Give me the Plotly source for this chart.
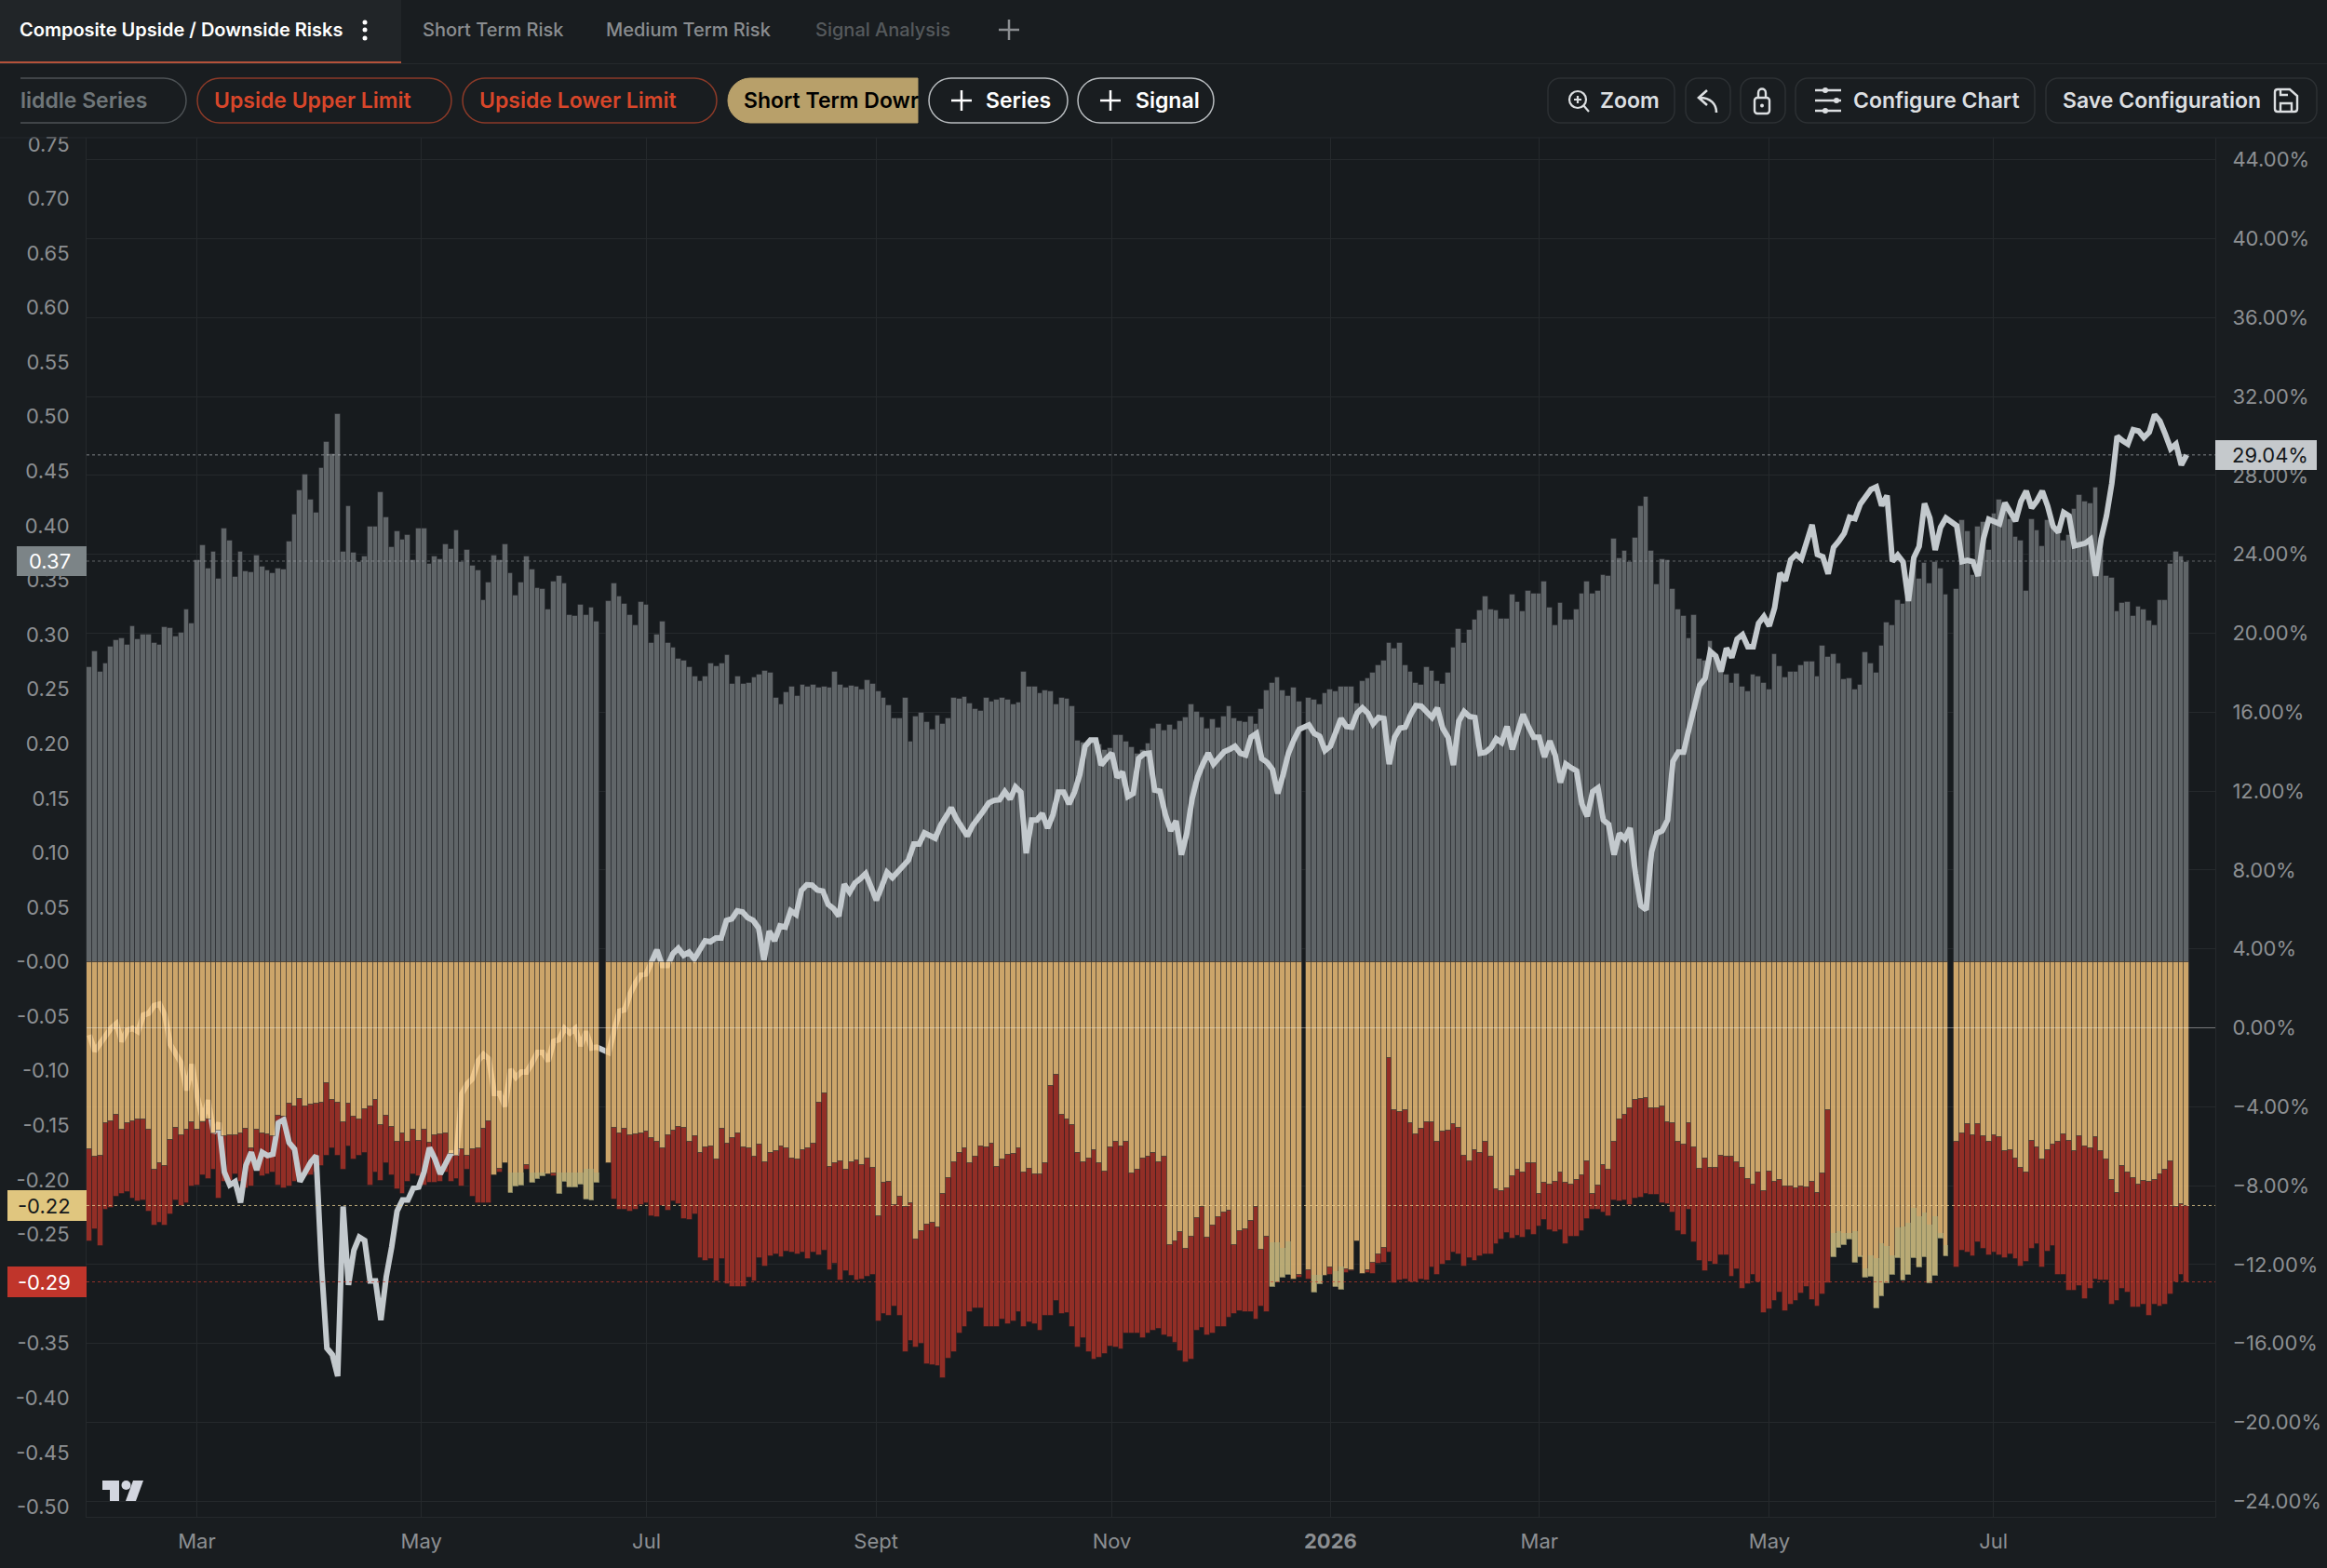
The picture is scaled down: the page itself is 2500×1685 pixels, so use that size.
"""Composite upside / downside risk chart, TradingView style dark panel."""
import numpy as np
import plotly.graph_objects as go

# bars come in four runs, split by the missing sessions
GREY_A = [.270, .285, .266, .274, .289, .295, .297, .291, .308, .296,
          .300, .300, .292, .291, .307, .306, .298, .302, .323, .310,
          .368, .382, .361, .376, .351, .397, .386, .353, .376, .358,
          .357, .373, .362, .359, .356, .361, .360, .385, .410, .432,
          .447, .424, .412, .453, .477, .466, .502, .376, .418, .375,
          .367, .372, .399, .399, .431, .408, .380, .395, .387, .391,
          .368, .397, .397, .365, .372, .369, .383, .379, .396, .367,
          .378, .363, .359, .332, .348, .373, .368, .383, .356, .336,
          .348, .372, .360, .343, .342, .323, .349, .354, .347, .318,
          .317, .327, .318, .325, .312]
GREY_B = [.331, .347, .335, .328, .318, .309, .330, .327, .292,
          .300, .312, .292, .288, .278, .276, .270, .262, .257, .262,
          .274, .271, .274, .281, .255, .262, .255, .256, .261, .263,
          .267, .265, .242, .236, .247, .252, .244, .254, .252, .254,
          .251, .252, .251, .266, .254, .251, .253, .252, .250, .258,
          .255, .248, .242, .235, .223, .223, .242, .202, .225, .228,
          .220, .213, .226, .218, .223, .242, .241, .243, .237, .232,
          .230, .242, .239, .240, .242, .240, .236, .238, .266, .252,
          .252, .246, .249, .248, .236, .242, .241, .234, .203, .201,
          .203, .204, .199, .194, .196, .208, .208, .202, .197, .191,
          .194, .200, .214, .218, .212, .217, .213, .221, .224, .236,
          .229, .224, .214, .222, .215, .225, .234, .223, .221, .220,
          .225, .218, .232, .249, .256, .261, .249, .244, .251, .239]
GREY_C = [.242, .240, .236, .246, .250, .248, .252, .252, .252, .237,
          .257, .260, .265, .272, .276, .292, .287, .292, .272, .266,
          .256, .254, .270, .267, .257, .255, .265, .288, .305, .292,
          .304, .314, .322, .335, .323, .322, .315, .315, .337, .330,
          .321, .340, .338,
          .338, .349, .325, .309, .329, .314, .314, .323, .338, .349,
          .338, .340, .355, .354, .388, .370, .377, .367, .389, .418,
          .426, .377, .346, .369, .368, .342, .323, .317, .297, .318,
          .278, .276, .294, .279, .268, .263, .256, .264, .252, .248,
          .263, .262, .256, .250, .282, .271, .261, .266, .266, .272,
          .275, .275, .262, .290, .280, .282, .274, .259, .260, .250,
          .254, .284, .274, .265, .290, .311, .309, .332, .328, .334,
          .368, .351, .366, .347, .367, .361, .337]
GREY_D = [.342, .405, .395, .355, .399, .403, .378, .411, .424, .421,
          .406, .390, .386, .340, .406, .396, .381, .405, .398, .395,
          .386, .391, .415, .428, .422, .420, .435, .378, .354, .352,
          .321, .329, .330, .317, .326, .323, .313, .309, .332, .332,
          .365, .376, .372, .367]

TAN_A = [-.172, -.179, -.178, -.148, -.146, -.140, -.154, -.148, -.146, -.145,
         -.145, -.154, -.191, -.185, -.187, -.163, -.152, -.159, -.154, -.147,
         -.154, -.147, -.145, -.157, -.155, -.160, -.159, -.159, -.157, -.153,
         -.171, -.154, -.157, -.158, -.160, -.141, -.142, -.130, -.133, -.126,
         -.133, -.131, -.130, -.129, -.111, -.127, -.129, -.147, -.130, -.142,
         -.145, -.135, -.133, -.127, -.150, -.141, -.151, -.165, -.157, -.165,
         -.154, -.164, -.154, -.166, -.159, -.158, -.157, -.176, -.178, -.172,
         -.178, -.172, -.171, -.153, -.146, -.196, -.190, -.185, -.212, -.206,
         -.205, -.186, -.203, -.199, -.197, -.195, -.194, -.213, -.202, -.207,
         -.207, -.204, -.218, -.219, -.203]
RED_A = [-.256, -.245, -.261, -.227, -.226, -.215, -.213, -.211, -.217, -.220,
         -.219, -.229, -.242, -.239, -.242, -.232, -.219, -.224, -.221, -.206,
         -.205, -.196, -.199, -.191, -.217, -.202, -.201, -.195, -.202, -.208,
         -.206, -.190, -.197, -.195, -.193, -.205, -.208, -.206, -.202, -.201,
         -.197, -.196, -.193, -.187, -.178, -.171, -.178, -.191, -.169, -.181,
         -.178, -.175, -.205, -.193, -.201, -.185, -.196, -.209, -.213, -.202,
         -.195, -.197, -.205, -.203, -.203, -.202, -.193, -.202, -.199, -.206,
         -.191, -.215, -.221, -.221, -.221, None, -.193, None, None, None,
         None, -.191, None, None, None, None, -.197, None, None, None,
         None, None, None, None, None]
OLIVE_A = [None] * 78 + [-.193, -.193, -.193, None, -.193, -.193, -.193, None, None,
                         -.193, -.193, -.193, -.193, -.193, -.190, -.190, -.193]

TAN_B = [-.185, -.152, -.157, -.153, -.159, -.158, -.157, -.156, -.162, -.165,
         -.171, -.159, -.155, -.151, -.152, -.165, -.160, -.175, -.170, -.169,
         -.181, -.153, -.167, -.162, -.157, -.170, -.171, -.179, -.168, -.184,
         -.175, -.174, -.169, -.171, -.180, -.181, -.173, -.171, -.167, -.129,
         -.121, -.188, -.185, -.183, -.191, -.184, -.182, -.186, -.180, -.189,
         -.233, -.203, -.202, -.223, -.215, -.225, -.221, -.255, -.247, -.241,
         -.239, -.244, -.213, -.198, -.184, -.175, -.171, -.185, -.179, -.169,
         -.170, -.167, -.188, -.181, -.177, -.176, -.171, -.193, -.190, -.195,
         -.195, -.185, -.114, -.104, -.140, -.145, -.150, -.175, -.184, -.180,
         -.173, -.185, -.192, -.170, -.165, -.169, -.165, -.194, -.191, -.180,
         -.179, -.175, -.184, -.179, -.260, -.256, -.248, -.263, -.252, -.235,
         -.225, -.253, -.242, -.234, -.230, -.228, -.260, -.247, -.245, -.238,
         -.225, -.264, -.252, -.298, -.294, -.290, -.287, -.291, -.287]
RED_B = [None, -.218, -.227, -.227, -.229, -.227, -.223, -.221, -.233, -.234,
         -.224, -.228, -.220, -.222, -.236, -.237, -.232, -.272, -.274, -.273,
         -.293, -.273, -.296, -.298, -.298, -.298, -.290, -.293, -.272, -.279,
         -.270, -.268, -.271, -.266, -.267, -.268, -.267, -.273, -.267, -.269,
         -.265, -.283, -.277, -.292, -.284, -.288, -.292, -.291, -.289, -.287,
         -.330, -.323, -.325, -.316, -.325, -.358, -.348, -.354, -.350, -.369,
         -.370, -.371, -.382, -.364, -.358, -.341, -.335, -.321, -.318, -.318,
         -.335, -.335, -.335, -.328, -.332, -.330, -.321, -.335, -.331, -.332,
         -.338, -.325, -.325, -.311, -.323, -.322, -.335, -.354, -.345, -.358,
         -.365, -.363, -.360, -.353, -.354, -.355, -.341, -.341, -.341, -.345,
         -.341, -.338, -.337, -.343, -.344, -.349, -.357, -.367, -.365, -.338,
         -.336, -.343, -.341, -.335, -.335, -.326, -.323, -.320, -.321, -.321,
         -.328, -.316, -.321, None, None, None, None, None, -.290]
OLIVE_B = [None] * 123 + [-.257, -.257, -.262, -.256, None, None]

TAN_C = [-.283, -.303, -.296, -.288, -.280, -.298, -.301, -.282, -.283, -.256,
         -.286, -.283, -.276, -.268, -.262, -.088, -.136, -.138, -.136, -.148,
         -.158, -.153, -.147, -.147, -.165, -.156, -.155, -.149, -.152, -.178,
         -.183, -.173, -.175, -.165, -.179, -.209, -.210, -.208, -.197, -.191,
         -.193, -.185, -.185, -.213, -.203, -.204, -.202, -.193, -.203, -.204,
         -.200, -.196, -.183, -.213, -.205, -.186, -.191, -.165, -.145, -.140,
         -.134, -.127, -.126, -.125, -.134, -.134, -.133, -.147, -.148, -.165,
         -.168, -.148, -.170, -.190, -.180, -.189, -.189, -.178, -.179, -.179,
         -.184, -.189, -.199, -.204, -.193, -.210, -.192, -.202, -.200, -.206,
         -.206, -.208, -.206, -.207, -.202, -.212, -.194, -.136,
         -.271, -.262, -.260, -.255, -.276, -.271, -.290, -.289, -.318, -.307,
         -.295, -.287, -.272, -.292, -.287, -.272, -.280, -.271, -.295, -.288,
         -.254, -.270]
RED_C = [-.291, None, None, None, -.287, None, None, -.285, -.284, None,
         None, -.285, -.286, -.277, -.276, -.267, -.295, -.292, -.291, -.294,
         -.294, -.291, -.292, -.280, -.287, -.278, -.274, -.267, -.268, -.279,
         -.272, -.274, -.270, -.268, -.268, -.259, -.255, -.249, -.254, -.251,
         -.253, -.246, -.250, -.243, -.237, -.246, -.248, -.246, -.259, -.252,
         -.252, -.247, -.236, -.227, -.227, -.230, -.233, -.219, -.220, -.219,
         -.223, -.217, -.216, -.213, -.214, -.214, -.221, -.222, -.230, -.247,
         -.250, -.227, -.257, -.274, -.284, -.275, -.278, -.269, -.269, -.289,
         -.282, -.300, -.296, -.287, -.294, -.322, -.319, -.311, -.303, -.320,
         -.314, -.311, -.304, -.298, -.310, -.316, -.305, -.295,
         None, None, None, None, None, None, None, None, None, None,
         None, None, None, None, None, None, None, None, None, None,
         None, None]
OLIVE_C = ([None, -.287, -.287, None, None, -.284, -.279] + [None] * 91 +
           [-.249, -.247, -.249, -.249, -.247, -.269, -.281, -.269, -.272, -.258,
            -.261, -.269, -.244, -.243, -.239, -.226, -.233, -.230, -.241, -.233,
            -.249, -.260])

TAN_D = [-.165, -.157, -.149, -.159, -.149, -.160, -.165, -.159, -.161, -.174,
         -.173, -.180, -.189, -.193, -.164, -.170, -.181, -.173, -.168, -.165,
         -.158, -.164, -.174, -.160, -.169, -.171, -.161, -.174, -.181, -.200,
         -.212, -.187, -.193, -.198, -.204, -.201, -.202, -.200, -.195, -.191,
         -.183, -.225, -.222, -.224]
RED_D = [-.280, -.265, -.267, -.270, -.257, -.263, -.269, -.267, -.269, -.272,
         -.268, -.273, -.279, -.275, -.263, -.259, -.280, -.266, -.261, -.287,
         -.287, -.302, -.302, -.297, -.309, -.300, -.291, -.292, -.292, -.314,
         -.311, -.300, -.303, -.317, -.317, -.314, -.325, -.314, -.316, -.314,
         -.305, -.294, -.287, -.294]

LINE_A = [-.36, -1.18, -.79, -.36, -.03, .21, -.69, -.13, -.03, -.19,
          .64, .74, 1.13, 1.20, .64, -.85, -1.35, -1.78, -3.17, -1.85,
          -3.50, -4.66, -3.67, -5.32, -4.82, -7.31, -7.97, -7.80, -8.86, -6.97,
          -6.31, -7.21, -6.31, -6.48, -6.41, -4.82, -4.66, -5.82, -6.15, -7.80,
          -7.31, -6.81, -6.48, -12.10, -16.24, -16.57, -17.66, -9.06, -13.03, -11.28,
          -10.61, -10.78, -12.83, -12.83, -14.82, -12.60, -11.11, -9.29, -8.73, -8.73,
          -8.13, -8.07, -7.31, -6.08, -6.64, -7.41, -6.88, -6.35, -6.35, -3.33,
          -2.84, -2.57, -1.68, -1.35, -1.58, -3.33, -3.33, -3.99, -2.11, -2.51,
          -2.24, -2.24, -1.78, -1.25, -1.25, -1.68, -.69, -.59, -.03, -.26,
          -.03, -.92, -.19, -1.02, -.98]
LINE_B = [-1.25, -.17, .84, .92, 1.73, 2.27, 2.68, 2.73, 3.35, 3.95,
          3.16, 3.16, 3.76, 4.03, 3.68, 3.84, 3.49, 3.90, 4.41, 4.36,
          4.55, 4.55, 5.44, 5.52, 5.93, 5.87, 5.58, 5.44, 5.06, 3.44,
          4.90, 4.41, 5.17, 5.11, 5.93, 5.74, 6.96, 7.25, 7.23, 6.98,
          6.93, 6.25, 6.04, 5.66, 7.28, 6.87, 7.34, 7.55, 7.82, 7.15,
          6.47, 7.15, 7.88, 7.61, 7.88, 8.15, 8.50, 9.31, 9.31, 9.88,
          9.77, 9.61, 10.26, 10.75, 11.15, 10.58, 10.18, 9.72, 10.26, 10.58,
          10.99, 11.40, 11.53, 11.56, 11.97, 11.59, 12.21, 11.94, 8.85, 10.53,
          10.53, 10.86, 10.12, 10.80, 11.94, 11.94, 11.34, 11.94, 12.83, 14.27,
          14.59, 14.59, 13.32, 13.65, 13.92, 12.70, 12.97, 11.72, 11.88, 13.65,
          13.89, 13.92, 12.05, 11.99, 10.80, 9.99, 10.48, 8.77, 9.85, 11.61,
          12.70, 13.37, 13.92, 13.37, 13.65, 14.00, 14.11, 14.27, 13.92, 13.83,
          14.73, 14.92, 13.65, 13.46, 13.10, 11.88, 12.83, 13.92, 14.59, 15.13]
LINE_C = [15.35, 14.92, 14.78, 14.05, 14.27, 15.00, 15.68, 15.27, 15.24, 15.95,
          16.22, 15.95, 15.41, 15.73, 15.68, 13.37, 14.73, 15.19, 15.24, 15.87,
          16.33, 16.30, 16.03, 15.73, 16.22, 15.19, 14.73, 13.32, 15.54, 16.03,
          15.78, 15.73, 13.92, 13.97, 14.19, 14.65, 14.46, 15.27, 14.11, 15.00,
          15.89, 15.27, 14.73, 14.73, 13.73, 14.54, 13.83, 12.43, 13.37, 13.18,
          13.02, 11.34, 10.72, 11.97, 12.16, 10.53, 10.31, 8.77, 9.85, 9.58,
          10.12, 7.82, 6.20, 5.98, 8.91, 9.85, 9.99, 10.53, 13.50, 13.97,
          13.97, 15.15, 16.41, 17.36, 17.70, 19.08, 18.85, 18.06, 19.24, 18.77,
          19.71, 19.93, 19.32, 19.32, 20.50, 20.85, 20.37, 21.29, 23.05, 22.67,
          23.72, 23.99, 23.77, 24.67, 25.50, 23.99, 23.88, 23.01, 24.35, 24.67,
          25.06, 25.88, 25.81, 26.55, 26.87, 27.29, 27.42, 26.47, 26.98, 23.64,
          23.96, 23.61, 21.63, 23.83, 24.40, 26.58, 25.84, 24.22, 25.37, 25.84]
LINE_D = [25.45, 23.63, 23.70, 23.63, 22.91, 24.79, 25.78, 25.69, 25.55, 26.61,
          26.12, 25.69, 26.68, 27.21, 26.35, 26.71, 27.21, 26.45, 25.42, 25.12,
          26.12, 25.95, 24.43, 24.53, 24.56, 24.76, 22.91, 24.79, 25.95, 27.60,
          29.99, 29.76, 29.59, 30.32, 30.25, 29.92, 30.19, 31.08, 30.75, 30.09,
          29.36, 29.59, 28.53, 29.04]

LEFT_TICKS = [.75, .70, .65, .60, .55, .50, .45, .40, .35, .30, .25, .20, .15, .10, .05,
              0, -.05, -.10, -.15, -.20, -.25, -.35, -.40, -.45, -.50]
LEFT_LABELS = ["0.75", "0.70", "0.65", "0.60", "0.55", "0.50", "0.45", "0.40", "0.35",
               "0.30", "0.25", "0.20", "0.15", "0.10", "0.05", "-0.00", "-0.05", "-0.10",
               "-0.15", "-0.20", "-0.25", "-0.35", "-0.40", "-0.45", "-0.50"]
RIGHT_TICKS = [44, 40, 36, 32, 28, 24, 20, 16, 12, 8, 4, 0, -4, -8, -12, -16, -20, -24]
RIGHT_LABELS = ["44.00%", "40.00%", "36.00%", "32.00%", "28.00%", "24.00%", "20.00%",
                "16.00%", "12.00%", "8.00%", "4.00%", "0.00%", "\u22124.00%", "\u22128.00%",
                "\u221212.00%", "\u221216.00%", "\u221220.00%", "\u221224.00%"]
MONTH_TICKS = [19.9, 61.5, 103.2, 145.7, 189.4, 229.9, 268.6, 311.2, 352.7]
MONTH_LABELS = ["Mar", "May", "Jul", "Sept", "Nov", "<b>2026</b>", "Mar", "May", "Jul"]

PAGE_BG = "#191d20"
PLOT_BG = "#171b1e"
GRID = "#25292c"
SEP = "rgba(23,27,30,0.42)"
FONT = "Inter"
W, H = 2500, 1685
L, R, T, B = 93, 2380, 148, 1630
# where each run of bars starts and ends, in bar widths from the first bar
RUN_SPANS = [(0, 94), (96.2, 224.1), (225.9, 343.9), (345.9, 388.5)]


def px(x):
    return (x - L) / (R - L)


def py(y):
    return (B - y) / (B - T)


def runs(*parts):
    return np.concatenate([np.linspace(a, b, len(p)) for (a, b), p in zip(RUN_SPANS, parts)])


def run_widths(*parts):
    # neighbours share an edge, so the 1px outline gives an even separator
    return np.concatenate([np.full(len(p), (b - a) / (len(p) - 1)) for (a, b), p in zip(RUN_SPANS, parts)])


def path_of(d):
    """Rewrite a pixel path 'M x,y L x,y' into paper coordinates."""
    out = []
    for tok in d.split():
        if "," in tok:
            x, y = tok.split(",")
            out.append(f"{px(float(x)):.5f},{py(float(y)):.5f}")
        else:
            out.append(tok)
    return " ".join(out)


def stroke(d, color, width=2, fill=None):
    return dict(type="path", xref="paper", yref="paper", path=path_of(d), layer="above",
                line=dict(color=color, width=width), fillcolor=fill)


def pill_path(x0, y0, x1, y1, r, left=True, right=True):
    k = r * 0.45
    d = f"M {x0 + r if left else x0},{y0} L {x1 - r if right else x1},{y0} "
    if right:
        d += f"C {x1 - k},{y0} {x1},{y0 + k} {x1},{y0 + r} L {x1},{y1 - r} C {x1},{y1 - k} {x1 - k},{y1} {x1 - r},{y1} "
    else:
        d += f"L {x1},{y1} "
    d += f"L {x0 + r if left else x0},{y1} "
    if left:
        d += f"C {x0 + k},{y1} {x0},{y1 - k} {x0},{y1 - r} L {x0},{y0 + r} C {x0},{y0 + k} {x0 + k},{y0} {x0 + r},{y0} Z"
    return d


def label(x, y, text, color, size=23, anchor="left", weight=600):
    return dict(xref="paper", yref="paper", x=px(x), y=py(y), text=text, showarrow=False,
                xanchor=anchor, yanchor="middle", align=anchor, borderpad=0,
                font=dict(family=FONT, size=size, color=color, weight=weight))


def box(x0, y0, x1, y1, fill, layer="above"):
    return dict(type="rect", xref="paper", yref="paper", x0=px(x0), x1=px(x1), y0=py(y0), y1=py(y1),
                fillcolor=fill, line=dict(width=0), layer=layer)


def dot(cx, cy, r, fill):
    return dict(type="circle", xref="paper", yref="paper", x0=px(cx - r), x1=px(cx + r), y0=py(cy + r), y1=py(cy - r),
                fillcolor=fill, line=dict(width=0), layer="above")


def hline(yref, y, color, dash="dot"):
    return dict(type="line", xref="paper", x0=0, x1=1, yref=yref, y0=y, y1=y, layer="above",
                line=dict(color=color, width=1, dash=dash))


grey = GREY_A + GREY_B + GREY_C + GREY_D
grey_x = runs(GREY_A, GREY_B, GREY_C, GREY_D)
grey_w = run_widths(GREY_A, GREY_B, GREY_C, GREY_D)
tan = TAN_A + TAN_B + TAN_C + TAN_D
tan_x = runs(TAN_A, TAN_B, TAN_C, TAN_D)
tan_w = run_widths(TAN_A, TAN_B, TAN_C, TAN_D)
red_bot = RED_A + RED_B + RED_C + RED_D
red_base = [t if r is not None else None for t, r in zip(tan, red_bot)]
red_h = [r - t if r is not None else None for t, r in zip(tan, red_bot)]
olive_top = OLIVE_A + OLIVE_B + OLIVE_C + [None] * len(TAN_D)
olive_h = [t - o if o is not None else None for t, o in zip(tan, olive_top)]
line_y = LINE_A + LINE_B + LINE_C + LINE_D
line_x = runs(LINE_A, LINE_B, LINE_C, LINE_D)

outline = dict(width=1, color=SEP)
fig = go.Figure()
fig.add_bar(x=grey_x, y=grey, width=grey_w, marker=dict(color="#606568", line=outline), yaxis="y")
fig.add_bar(x=tan_x, y=red_h, base=red_base, width=tan_w, marker=dict(color="#922e26", line=outline), yaxis="y")
fig.add_scatter(x=line_x, y=line_y, mode="lines", line=dict(color="#c3c9cd", width=6), yaxis="y2")
fig.add_bar(x=tan_x, y=tan, width=tan_w, marker=dict(color="rgba(250,200,125,0.8)", line=outline), yaxis="y3")
fig.add_bar(x=tan_x, y=olive_h, base=olive_top, width=tan_w, marker=dict(color="rgba(170,175,125,0.55)", line=dict(width=0)), yaxis="y3")

left_range = [-.509, .7558]
shapes = [
    box(0, 0, 431, 67, "#212528", "below"),
    box(0, 66, 431, 68, "#b4523a"),
    box(0, 68, W, 69, GRID),
    box(0, 147.5, W, 148.5, GRID),
    hline("y2", 0, "rgba(255,255,255,0.38)", "solid"),
    hline("y2", 29.04, "rgba(215,220,222,0.55)"),
    hline("y", .3675, "rgba(190,195,198,0.45)"),
    hline("y", -.2235, "rgba(238,214,150,0.75)"),
    hline("y", -.2935, "rgba(200,60,45,0.7)"),
    # toolbar pills
    stroke(pill_path(22, 84, 200, 132, 24, left=False), "#4d5255", 1.5),
    stroke(pill_path(212, 84, 485, 132, 24), "#8c3a28", 1.5),
    stroke(pill_path(497, 84, 770, 132, 24), "#8c3a28", 1.5),
    stroke(pill_path(782, 84, 986, 132, 24, right=False), "#b8a06a", 1, "#b8a06a"),
    stroke(pill_path(998, 84, 1147, 132, 24), "#b9bdc0", 1.5),
    stroke(pill_path(1158, 84, 1304, 132, 24), "#b9bdc0", 1.5),
    stroke(pill_path(1663, 84, 1799, 132, 13), "#2c3033", 1.5),
    stroke(pill_path(1811, 84, 1859, 132, 13), "#2c3033", 1.5),
    stroke(pill_path(1870, 84, 1918, 132, 13), "#2c3033", 1.5),
    stroke(pill_path(1929, 84, 2186, 132, 13), "#2c3033", 1.5),
    stroke(pill_path(2198, 84, 2489, 132, 13), "#2c3033", 1.5),
    # plus signs
    stroke("M 1022,108 L 1044,108 M 1033,97 L 1033,119", "#ffffff", 2.5),
    stroke("M 1182,108 L 1204,108 M 1193,97 L 1193,119", "#ffffff", 2.5),
    stroke("M 1073,32 L 1095,32 M 1084,21 L 1084,43", "#8a8d90", 2.5),
    # tab menu dots
    dot(392, 24, 2.5, "#ffffff"), dot(392, 32, 2.5, "#ffffff"), dot(392, 41, 2.5, "#ffffff"),
    # zoom icon
    stroke(pill_path(1686, 98, 1704, 116, 9), "#dcdfe1", 2.2),
    stroke("M 1701,113 L 1707,120 M 1695,103 L 1695,111 M 1691,107 L 1699,107", "#dcdfe1", 2.2),
    # undo icon
    stroke("M 1834,97 L 1825,105 L 1834,113 M 1826,105 C 1838,105 1844,112 1844,121", "#dcdfe1", 2.6),
    # lock icon
    stroke(pill_path(1885, 105, 1901, 122, 3), "#dcdfe1", 2.4),
    stroke("M 1889,105 L 1889,100 C 1889,94 1897,94 1897,100 L 1897,105", "#dcdfe1", 2.4),
    dot(1893, 113.5, 2, "#dcdfe1"),
    # sliders icon
    stroke("M 1950,97 L 1978,97 M 1950,108 L 1978,108 M 1950,119 L 1978,119", "#dcdfe1", 2.4),
    dot(1961, 97, 3, "#dcdfe1"), dot(1973, 108, 3, "#dcdfe1"), dot(1961, 119, 3, "#dcdfe1"),
    # floppy icon
    stroke("M 2447,96 L 2460,96 L 2468,103 L 2468,117 C 2468,119 2467,120 2465,120 L 2447,120 C 2445,120 2444,119 2444,117 L 2444,99 C 2444,97 2445,96 2447,96 Z", "#dcdfe1", 2.4),
    stroke("M 2450,120 L 2450,111 L 2462,111 L 2462,120 M 2450,96 L 2450,102 L 2458,102", "#dcdfe1", 2.4),
    # logo
    dict(type="path", xref="paper", yref="paper", layer="above", fillcolor="#d3d6e0", line=dict(width=0),
         path=path_of("M 110,1591 L 128,1591 L 128,1613 L 118,1613 L 118,1601 L 110,1601 Z")),
    dict(type="path", xref="paper", yref="paper", layer="above", fillcolor="#d3d6e0", line=dict(width=0),
         path=path_of("M 143,1591 L 154,1591 L 146,1613 L 135,1613 Z")),
    dot(135.5, 1596, 5, "#d3d6e0"),
    # price tags
    box(18, 587, 93, 619, "#7c8487"),
    box(8, 1279, 93, 1312, "#e0c67f"),
    box(8, 1361, 93, 1394, "#c0352b"),
    box(2380, 473, 2489, 505, "#c5c9cc"),
]

annotations = [
    label(19.5, 32, "Composite Upside / Downside Risks", "#ffffff", 20),
    label(452.5, 32, "Short Term Risk", "#8a8d90", 20, weight=500),
    label(650, 32, "Medium Term Risk", "#8a8d90", 20, weight=500),
    label(874.5, 32, "Signal Analysis", "#55595c", 20, weight=500),
    label(21, 108, "liddle Series", "#6f7679"),
    label(228.5, 108, "Upside Upper Limit", "#d8462a"),
    label(513.5, 108, "Upside Lower Limit", "#d8462a"),
    label(798.5, 108, "Short Term Dowr", "#000000"),
    label(1057.5, 108, "Series", "#ffffff"),
    label(1218.5, 108, "Signal", "#ffffff"),
    label(1717.5, 108, "Zoom", "#dcdfe1"),
    label(1989.5, 108, "Configure Chart", "#dcdfe1"),
    label(2215, 108, "Save Configuration", "#dcdfe1"),
    label(77, 603, "0.37", "#ffffff", 22, "right", 400),
    label(77, 1296, "-0.22", "#14181b", 22, "right", 400),
    label(77, 1378, "-0.29", "#ffffff", 22, "right", 400),
    label(2397, 489, "29.04%", "#14181b", 22, "left", 400),
]

tick_font = dict(family=FONT, size=22, color="#8c8f92")
fig.update_layout(
    width=W, height=H, autosize=False, showlegend=False, barmode="overlay", hovermode=False,
    paper_bgcolor=PAGE_BG, plot_bgcolor=PLOT_BG, bargap=0,
    margin=dict(l=L, r=W - R, t=T, b=H - B, pad=0, autoexpand=False),
    shapes=shapes, annotations=annotations,
    xaxis=dict(range=[-.52, 393.8], tickvals=MONTH_TICKS, ticktext=MONTH_LABELS, tickfont=tick_font,
               showgrid=True, gridcolor=GRID, gridwidth=1, zeroline=False, ticklen=0, ticks="",
               ticklabelstandoff=7, showline=True, linecolor=GRID, mirror=False),
    yaxis=dict(range=left_range, tickvals=LEFT_TICKS, ticktext=LEFT_LABELS, tickfont=tick_font,
               showgrid=False, zeroline=False, ticks="", ticklen=0, ticklabelstandoff=13,
               showline=True, linecolor=GRID),
    yaxis2=dict(range=[-24.79, 45.12], overlaying="y", side="right", tickvals=RIGHT_TICKS,
                ticktext=RIGHT_LABELS, tickfont=tick_font, showgrid=True, gridcolor=GRID,
                zeroline=False, ticks="", ticklen=0, ticklabelstandoff=13,
                showline=True, linecolor=GRID),
    yaxis3=dict(range=left_range, overlaying="y", visible=False),
)

fig.write_html("out.html", config={"displayModeBar": False},
               post_script="document.body.style.margin='0';")
